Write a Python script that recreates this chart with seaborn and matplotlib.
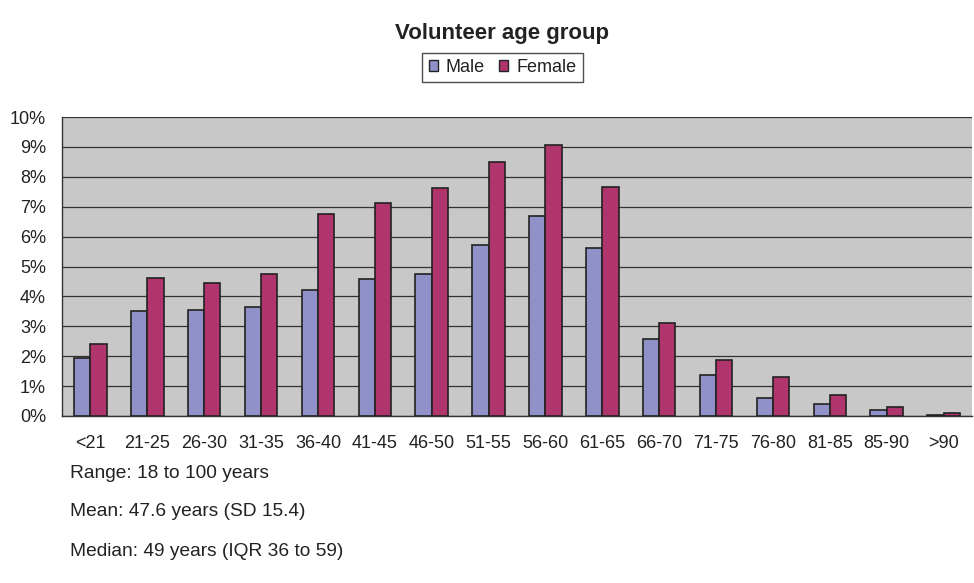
import matplotlib
matplotlib.use("Agg")
import matplotlib.pyplot as plt
import seaborn as sns
import pandas as pd
import numpy as np
from matplotlib.ticker import FixedLocator, PercentFormatter

# Share of volunteers (%) by age band and sex
age_groups = ["<21", "21-25", "26-30", "31-35", "36-40", "41-45", "46-50", "51-55",
              "56-60", "61-65", "66-70", "71-75", "76-80", "81-85", "85-90", ">90"]
male = [1.94, 3.50, 3.55, 3.65, 4.22, 4.57, 4.75, 5.73,
        6.70, 5.63, 2.56, 1.37, 0.59, 0.40, 0.20, 0.05]
female = [2.42, 4.60, 4.45, 4.75, 6.75, 7.12, 7.63, 8.50,
          9.05, 7.67, 3.10, 1.87, 1.32, 0.69, 0.29, 0.10]
series = ["Male", "Female"]
summary_lines = ["Range: 18 to 100 years",
                 "Mean: 47.6 years (SD 15.4)",
                 "Median: 49 years (IQR 36 to 59)"]

df = pd.DataFrame({
    "age": age_groups * 2,
    "pct": male + female,
    "sex": [series[0]] * len(age_groups) + [series[1]] * len(age_groups),
})

sns.set_theme(style="white")
plt.rcParams["font.family"] = ["Liberation Sans", "DejaVu Sans"]

fig = plt.figure(figsize=(9.74, 5.83), dpi=100)
ax = fig.add_axes([62 / 974, 1 - 416 / 583, 910 / 974, 299 / 583])
ax.set_facecolor("#c8c8c8")

palette = {"Male": "#9191c9", "Female": "#b0356d"}
sns.barplot(data=df, x="age", y="pct", hue="sex", order=age_groups,
            hue_order=series, palette=palette, width=0.57, saturation=1,
            edgecolor="#222222", linewidth=1.2, ax=ax, legend=False, zorder=3)

ax.set_xlim(-0.5, len(age_groups) - 0.5)
ax.set_ylim(0, 10)
ax.yaxis.set_major_locator(FixedLocator(np.arange(0, 11, 1)))
ax.yaxis.set_major_formatter(PercentFormatter(decimals=0))
ax.grid(axis="y", color="#333333", linewidth=0.9, zorder=1)
ax.set_axisbelow(True)

# category labels at centers, tick marks at category boundaries
ax.set_xticks(range(len(age_groups)))
ax.set_xticklabels(age_groups)
ax.tick_params(axis="x", which="major", length=0, pad=13.5, labelsize=13, labelcolor="#222222")
ax.set_xticks(np.arange(0.5, len(age_groups) - 0.5, 1), minor=True)
ax.tick_params(axis="x", which="minor", length=4.5, width=1, color="#555555", direction="out")
ax.tick_params(axis="y", length=4.5, width=1, color="#333333", direction="out",
               labelsize=13, labelcolor="#222222", pad=7)
ax.set_xlabel("")
ax.set_ylabel("")

for side in ["top", "right"]:
    ax.spines[side].set_visible(False)
for side in ["left", "bottom"]:
    ax.spines[side].set_color("#333333")
    ax.spines[side].set_linewidth(1.0)

fig.text(502 / 974, 1 - 34 / 583, "Volunteer age group", ha="center", va="center",
         fontsize=16, fontweight="bold", color="#222222")

handles = [plt.Rectangle((0, 0), 1, 1, facecolor=palette[s], edgecolor="#222222", linewidth=1)
           for s in series]
leg = fig.legend(handles, series, loc="center", bbox_to_anchor=(502.5 / 974, 1 - 67.5 / 583),
                 ncol=2, frameon=True, fontsize=13, handlelength=0.5, handleheight=0.5,
                 handletextpad=0.45, columnspacing=0.8, borderpad=0.35, borderaxespad=0,
                 fancybox=False)
leg.get_frame().set_edgecolor("#222222")
leg.get_frame().set_linewidth(1.0)
for t in leg.get_texts():
    t.set_color("#222222")

for i, line in enumerate(summary_lines):
    fig.text(70 / 974, 1 - (473 + i * 39) / 583, line, ha="left", va="center",
             fontsize=13.8, color="#222222")

fig.savefig("out.png", dpi=100, facecolor="white")
